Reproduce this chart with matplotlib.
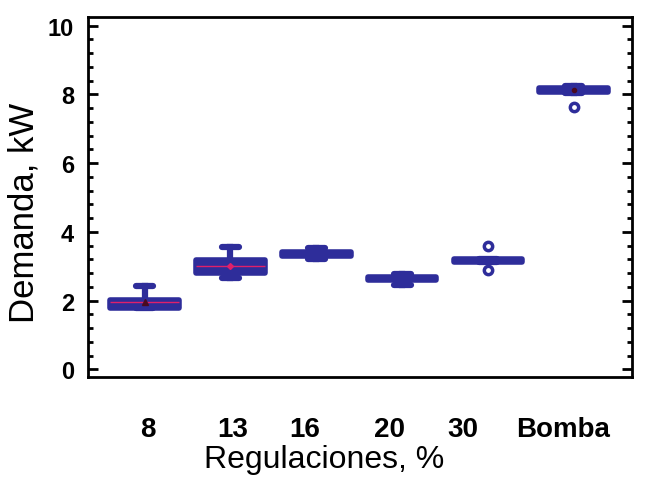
import matplotlib
matplotlib.use("Agg")
import matplotlib.pyplot as plt
from matplotlib.ticker import MultipleLocator

plt.rcParams["font.family"] = ["Liberation Sans", "DejaVu Sans"]

# box statistics (kW)
groups = ["8", "13", "16", "20", "30", "Bomba"]
medians = [1.95, 3.00, 3.37, 2.64, 3.17, 8.13]
q1 = [1.79, 2.80, 3.31, 2.60, 3.13, 8.08]
q3 = [2.01, 3.19, 3.43, 2.69, 3.21, 8.18]
whis_lo = [1.79, 2.66, 3.22, 2.47, 3.13, 8.05]
whis_hi = [2.44, 3.57, 3.53, 2.79, 3.21, 8.24]
fliers = [[], [], [], [], [2.88, 3.58], [7.62]]

blue = "#2e2d9a"
positions = list(range(1, len(groups) + 1))
label_x = [1.035, 2.026, 2.865, 3.855, 4.706, 5.872]

stats = []
for i, g in enumerate(groups):
    stats.append({
        "label": g, "med": medians[i], "q1": q1[i], "q3": q3[i],
        "whislo": whis_lo[i], "whishi": whis_hi[i], "fliers": fliers[i],
        "mean": medians[i],
    })

fig = plt.figure(figsize=(6.49, 4.81), dpi=100)
ax = fig.add_axes([0.1356, 0.214, 0.8384, 0.7486])

parts = ax.bxp(stats, positions=positions, widths=0.8, patch_artist=True, showmeans=True,
               boxprops=dict(facecolor=blue, edgecolor=blue, linewidth=4,
                             joinstyle="round"),
               whiskerprops=dict(color=blue, linewidth=4.5),
               capprops=dict(color=blue, linewidth=4.5, solid_capstyle="round"),
               capwidths=0.2,
               medianprops=dict(color="#e0206a", linewidth=1),
               meanprops=dict(marker="^", markerfacecolor="#4a0a20",
                              markeredgecolor="#4a0a20", markersize=4),
               flierprops=dict(marker="o", markerfacecolor="white", markeredgecolor=blue,
                               markeredgewidth=2.5, markersize=6))

# only the first two boxes show a reddish median line
for i, line in enumerate(parts["medians"]):
    if i > 1:
        line.set_color(blue)
for i, m in enumerate(parts["means"]):
    if i in (2, 3, 4):
        m.set_visible(False)
parts["means"][1].set_marker("D")
parts["means"][1].set_markerfacecolor("#e0206a")
parts["means"][1].set_markeredgecolor("#e0206a")
parts["means"][1].set_markersize(3)
parts["means"][5].set_marker("o")
parts["means"][5].set_markersize(3)

ax.set_xlim(0.34, 6.68)
ax.set_ylim(-0.22, 10.25)
ax.set_xticks(label_x)
ax.set_xticklabels(groups, fontsize=20, fontweight="bold")
ax.tick_params(axis="x", length=0, pad=28)
ax.set_yticks([0, 2, 4, 6, 8, 10])
ax.yaxis.set_minor_locator(MultipleLocator(0.4))
ax.tick_params(axis="y", which="both", direction="in", left=True, right=True,
               width=2, labelsize=17, pad=10)
ax.tick_params(axis="y", which="major", length=7)
ax.tick_params(axis="y", which="minor", length=3.5)
for lab in ax.get_yticklabels():
    lab.set_fontweight("bold")
for s in ax.spines.values():
    s.set_linewidth(2)

ax.set_xlabel("Regulaciones, %", fontsize=23)
ax.xaxis.set_label_coords(0.434, -0.185)
ax.set_ylabel("Demanda, kW", fontsize=25)
ax.yaxis.set_label_coords(-0.087, 0.458)

fig.savefig("out.png", dpi=100)
